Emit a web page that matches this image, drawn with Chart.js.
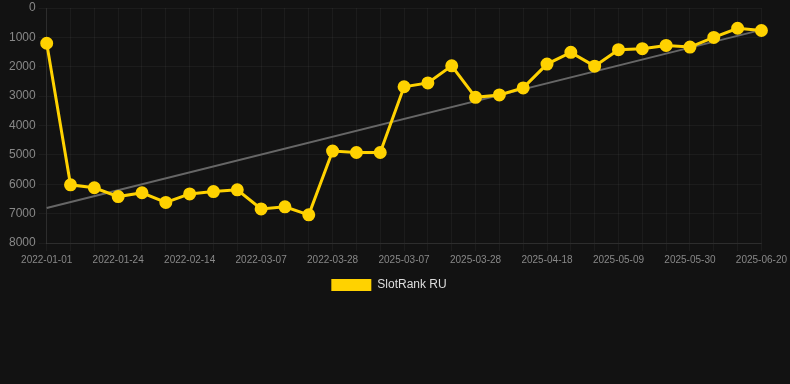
<!DOCTYPE html>
<html>
<head>
<meta charset="utf-8">
<script src="https://cdn.jsdelivr.net/npm/chart.js@4"></script>
<style>
	html, body { margin: 0; padding: 0; background: #121212; }
	#wrap { width: 790px; height: 384px; }
</style>
</head>
<body>
<div id="wrap"><canvas id="rank_chart"></canvas></div>
<script>
const dates = [
	'2022-01-01', '2022-01-10', '2022-01-17', '2022-01-24', '2022-01-31', '2022-02-07',
	'2022-02-14', '2022-02-21', '2022-02-28', '2022-03-07', '2022-03-14', '2022-03-21',
	'2022-03-28', '2022-04-04', '2022-04-11', '2025-03-07', '2025-03-14', '2025-03-21',
	'2025-03-28', '2025-04-04', '2025-04-11', '2025-04-18', '2025-04-25', '2025-05-02',
	'2025-05-09', '2025-05-16', '2025-05-23', '2025-05-30', '2025-06-06', '2025-06-13',
	'2025-06-20'
];
const rankRU = [
	1200, 6020, 6120, 6420, 6290, 6620, 6330, 6250, 6190, 6840, 6770, 7040,
	4870, 4920, 4920, 2680, 2550, 1970, 3040, 2960, 2720, 1910, 1510, 1980,
	1420, 1385, 1275, 1330, 1000, 690, 765
];
// trend line, read at both ends
const trendStart = 6810;
const trendEnd = 745;
const yTicks = [0, 1000, 2000, 3000, 4000, 5000, 6000, 7000, 8000];

const trend = dates.map((d, i) => i === 0 ? trendStart : (i === dates.length - 1 ? trendEnd : null));

const data = {
	labels: dates,
	datasets: [
		{
			label: 'SlotRank RU',
			data: rankRU,
			borderColor: '#FFD200',
			backgroundColor: '#FFD200',
			borderWidth: 3,
			pointRadius: 5,
			pointHoverRadius: 5,
			tension: 0,
			order: 1
		},
		{
			label: 'trend',
			data: trend,
			borderColor: '#666666',
			borderWidth: 2,
			pointRadius: 0,
			spanGaps: true,
			order: 2
		}
	]
};

const config = {
	type: 'line',
	data: data,
	options: {
		responsive: true,
		maintainAspectRatio: false,
		animation: false,
		layout: { padding: { left: 6, right: 18, top: 0, bottom: 83 } },
		scales: {
			x: {
				grid: { color: 'rgba(255,255,255,0.045)' },
				border: { color: 'rgba(255,255,255,0.08)' },
				ticks: {
					color: '#888',
					font: { size: 10 },
					autoSkip: false,
					maxRotation: 0,
					callback: function (val, idx) {
						return idx % 3 === 0 ? this.getLabelForValue(val) : '';
					}
				}
			},
			y: {
				reverse: true,
				min: yTicks[0],
				max: yTicks[yTicks.length - 1],
				grid: { color: 'rgba(255,255,255,0.045)' },
				border: { color: 'rgba(255,255,255,0.08)' },
				afterBuildTicks: (axis) => { axis.ticks = yTicks.map(v => ({ value: v })); },
				afterFit: (axis) => { axis.paddingTop = 5; },
				ticks: { color: '#888', font: { size: 12 }, callback: (v) => String(v) }
			}
		},
		plugins: {
			legend: {
				position: 'bottom',
				labels: {
					color: '#ddd',
					font: { size: 12 },
					boxWidth: 40,
					boxHeight: 12,
					generateLabels: (chart) => Chart.defaults.plugins.legend.labels.generateLabels(chart)
						.filter(item => item.text !== 'trend')
						.map(item => Object.assign(item, { lineWidth: 0 }))
				}
			},
			tooltip: { enabled: false }
		}
	}
};

new Chart(document.getElementById('rank_chart'), config);
</script>
</body>
</html>
